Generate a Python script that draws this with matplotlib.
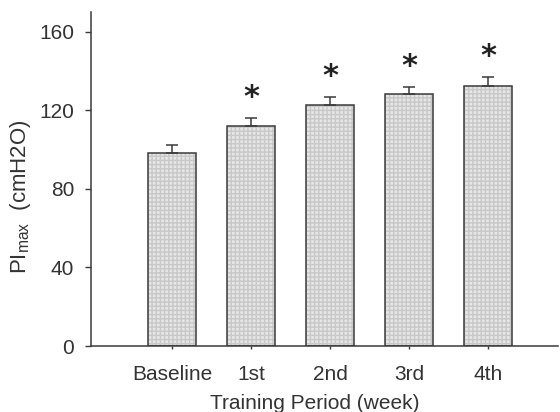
import matplotlib
matplotlib.use('Agg')

import matplotlib.pyplot as plt
import numpy as np

periods = ['Baseline', '1st', '2nd', '3rd', '4th']
pimax = [98.3, 112.0, 122.8, 128.4, 132.5]
sem = [4.0, 4.2, 3.8, 3.2, 4.5]
significant = [False, True, True, True, True]

plt.rcParams['font.family'] = ['Liberation Sans', 'DejaVu Sans']
plt.rcParams['font.size'] = 15

fig = plt.figure(figsize=(5.6, 4.12), dpi=100)
ax = fig.add_axes([0.1625, 0.160, 0.834, 0.811])

x = np.arange(len(periods))
edge = '#3a3a3a'
txt = '#333333'
# hatched grey fill, then dark outline on top
ax.bar(x, pimax, width=0.61, color='#e6e6e6', edgecolor='#c8c8c8', hatch='++++', linewidth=0, zorder=2)
ax.bar(x, pimax, width=0.61, fill=False, edgecolor=edge, linewidth=1.1, zorder=3)
ax.errorbar(x, pimax, yerr=[np.zeros(len(sem)), sem], fmt='none', ecolor=edge,
            elinewidth=1.1, capsize=4.5, capthick=1.1, zorder=4)

for xi, m, e, s in zip(x, pimax, sem, significant):
    if s:
        ax.text(xi, m + e + 10.5, '*', ha='center', va='center', fontsize=22,
                color='#222222', family='DejaVu Sans', fontweight='bold')

ax.set_xlim(-1.025, 4.886)
ax.set_ylim(0, 170)
ax.set_yticks([0, 40, 80, 120, 160])
ax.set_xticks(x)
ax.set_xticklabels(periods)
ax.tick_params(axis='y', direction='out', length=4, width=1, color=edge, pad=8, labelcolor=txt)
ax.tick_params(axis='x', direction='out', length=2.5, width=1, color=edge, pad=11, labelcolor=txt)

for side in ['top', 'right']:
    ax.spines[side].set_visible(False)
for side in ['left', 'bottom']:
    ax.spines[side].set_color(edge)
    ax.spines[side].set_linewidth(1.1)

ax.set_xlabel('Training Period (week)', color=txt, fontsize=15)
ax.xaxis.set_label_coords(0.48, -0.143)
ax.set_ylabel(r'PI$_{\mathregular{max}}$  (cmH2O)', color=txt, fontsize=16)
ax.yaxis.set_label_coords(-0.124, 0.446)

fig.savefig('out.png', dpi=100)
plt.close(fig)
